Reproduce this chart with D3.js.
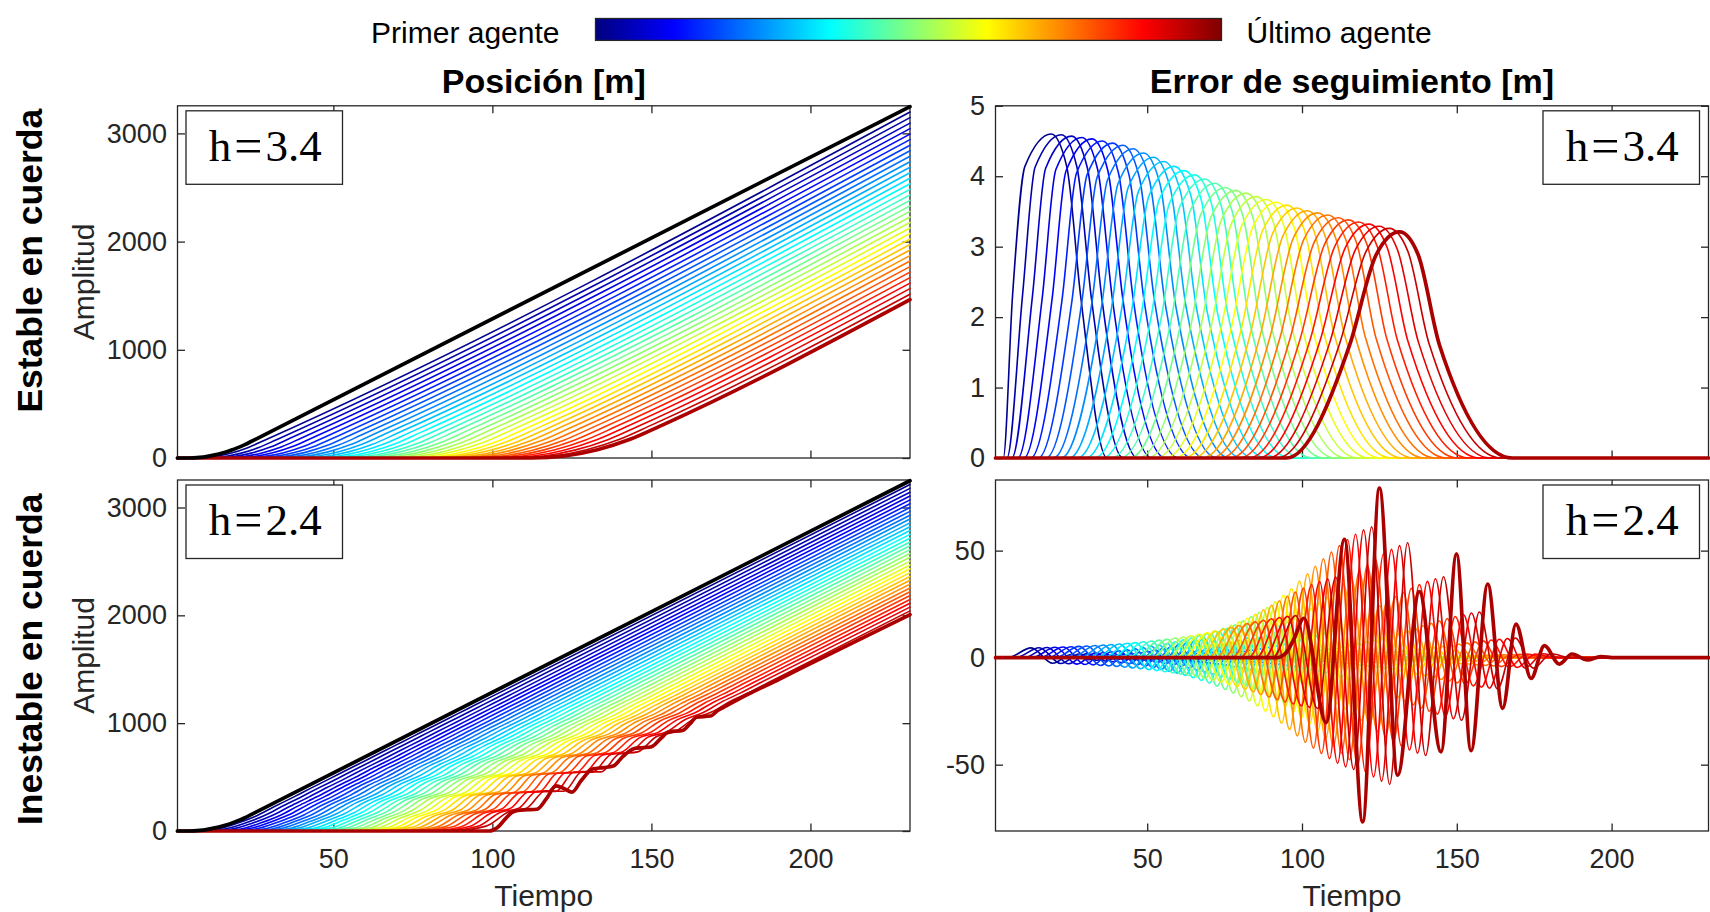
<!DOCTYPE html>
<html>
<head>
<meta charset="utf-8">
<script src="https://cdn.jsdelivr.net/npm/d3@7"></script>
<style>
  body { margin: 0; background: #fff; }
  svg { display: block; }
</style>
</head>
<body>
<script>
// ---------------- Datos ----------------
const tiempoEje = [1, 231.3];
const ticksTiempo = [50, 100, 150, 200];
const ticksPosicion = [0, 1000, 2000, 3000];
const ticksErrorEstable = [0, 1, 2, 3, 4, 5];
const ticksErrorInestable = [-50, 0, 50];
const limitePosicion = [0, 3255];
const limiteErrorEstable = [0, 5];
const limiteErrorInestable = [-81, 83];
const etiquetasH = ["3.4", "2.4"];

// Líder (trazo negro)
const liderTiempo = [1, 4, 6, 8, 10, 12, 14, 16, 18, 20, 22, 24, 26, 231.3];
const liderPosicion = [0, 0, 2, 6, 13, 24, 37, 54, 73, 96, 121, 150, 180, 3248];

// h = 3.4 : posición de cada seguidor (cruce con cero de su recta, media anchura de la curva, valor final)
const cruceH34 = [17.4, 20.8, 24.2, 27.6, 31.0, 34.4, 37.8, 41.2, 44.6, 48.0, 51.4, 54.8, 58.2, 61.6, 65.0, 68.4, 71.8, 75.2, 78.6, 82.0, 85.4, 88.8, 92.2, 95.6, 99.0, 102.4, 105.8, 109.2, 112.6, 116.0, 119.4, 122.8, 126.2, 129.6, 133.0];
const curvaH34 = [11, 11.5, 12, 12.4, 12.8, 13.2, 13.5, 13.9, 14.2, 14.5, 14.8, 15.1, 15.4, 15.7, 16, 16.3, 16.5, 16.8, 17, 17.3, 17.5, 17.8, 18, 18.2, 18.5, 18.7, 18.9, 19.1, 19.3, 19.5, 19.8, 20, 20.2, 20.4, 20.6];
const finalH34 = [3197, 3146, 3095, 3044, 2993, 2942, 2891, 2840, 2789, 2738, 2687, 2636, 2585, 2534, 2483, 2432, 2381, 2330, 2279, 2228, 2177, 2126, 2075, 2024, 1973, 1922, 1871, 1820, 1769, 1718, 1667, 1616, 1565, 1514, 1463];

// h = 3.4 : error de seguimiento de cada seguidor (instantes característicos y valor de pico)
const errIniH34 = [3.5, 4.7, 6.3, 8.2, 10.2, 12.4, 14.8, 17.3, 19.7, 22.2, 24.8, 27.5, 30.2, 32.9, 35.5, 38.4, 41.3, 44.3, 47.1, 50.0, 52.9, 55.8, 58.8, 61.8, 64.7, 67.7, 70.7, 73.7, 76.8, 79.8, 82.9, 85.9, 89.0, 92.0, 95.0];
const errSube50H34 = [6.5, 9.7, 12.9, 16.1, 19.3, 22.5, 25.7, 28.9, 32.1, 35.3, 38.5, 41.7, 44.9, 48.1, 51.3, 54.5, 57.7, 60.9, 64.2, 67.4, 70.6, 73.8, 77.0, 80.2, 83.4, 86.6, 89.8, 93.0, 96.2, 99.4, 102.6, 105.8, 109.0, 112.2, 115.4];
const errSube90H34 = [10.5, 13.8, 17.2, 20.5, 23.8, 27.2, 30.6, 33.9, 37.2, 40.6, 43.9, 47.2, 50.6, 53.9, 57.2, 60.5, 63.9, 67.3, 70.6, 74.0, 77.3, 80.6, 84.0, 87.3, 90.6, 93.9, 97.3, 100.6, 104.0, 107.4, 110.7, 114.0, 117.3, 120.7, 124.0];
const errPicoH34 = [19.0, 22.3, 25.6, 28.9, 32.2, 35.5, 38.9, 42.2, 45.5, 48.8, 52.1, 55.4, 58.7, 62.0, 65.3, 68.6, 71.9, 75.3, 78.6, 81.9, 85.2, 88.5, 91.8, 95.1, 98.4, 101.7, 105.0, 108.3, 111.7, 115.0, 118.3, 121.6, 124.9, 128.2, 131.5];
const errBaja90H34 = [24.0, 27.3, 30.7, 34.0, 37.3, 40.7, 44.1, 47.4, 50.7, 54.1, 57.4, 60.7, 64.1, 67.4, 70.7, 74.0, 77.4, 80.8, 84.1, 87.5, 90.8, 94.1, 97.5, 100.8, 104.1, 107.4, 110.8, 114.1, 117.5, 120.9, 124.2, 127.5, 130.8, 134.2, 137.5];
const errBaja50H34 = [28.5, 31.9, 35.3, 38.7, 42.1, 45.5, 49.0, 52.4, 55.8, 59.2, 62.6, 66.0, 69.4, 72.8, 76.2, 79.6, 83.0, 86.5, 89.9, 93.3, 96.7, 100.1, 103.5, 106.9, 110.3, 113.7, 117.1, 120.4, 123.9, 127.4, 130.8, 134.2, 137.6, 141.0, 144.4];
const errFinH34 = [37.0, 42.2, 46.9, 51.5, 55.9, 60.2, 64.5, 68.5, 72.6, 76.6, 80.5, 84.3, 88.2, 92.0, 95.9, 99.6, 103.2, 107.0, 110.7, 114.3, 118.0, 121.7, 125.3, 128.8, 132.4, 136.0, 139.6, 143.1, 146.8, 150.4, 153.9, 157.4, 160.9, 164.4, 168.0];
const errValorH34 = [4.60, 4.59, 4.57, 4.55, 4.53, 4.50, 4.47, 4.44, 4.39, 4.33, 4.27, 4.21, 4.14, 4.08, 4.02, 3.96, 3.90, 3.84, 3.80, 3.76, 3.71, 3.67, 3.63, 3.59, 3.55, 3.51, 3.48, 3.45, 3.41, 3.38, 3.35, 3.32, 3.29, 3.26, 3.21];

// h = 2.4 : posición de cada seguidor
const cruceH24 = [16.4, 18.7, 21.1, 23.5, 25.8, 28.2, 30.6, 32.9, 35.3, 37.7, 40.0, 42.4, 44.8, 47.1, 49.5, 51.9, 54.2, 56.6, 59.0, 61.3, 63.7, 66.1, 68.4, 70.8, 73.2, 75.5, 77.9, 80.3, 82.6, 85.0, 87.4, 89.7, 92.1, 94.5, 96.8];
const curvaH24 = [11.0, 11.0, 10.9, 10.8, 10.7, 10.6, 10.5, 10.4, 10.3, 10.2, 10.1, 10.0, 9.9, 9.8, 9.7, 9.6, 9.5, 9.4, 9.3, 9.2, 9.1, 9.0, 8.9, 8.8, 8.7, 8.6, 8.5, 8.4, 8.3, 8.2, 8.1, 8.0, 7.9, 7.8, 7.7];
const finalH24 = [3212.5, 3177, 3141.5, 3106, 3070.5, 3035, 2999.5, 2964, 2928.5, 2893, 2857.5, 2822, 2786.5, 2751, 2715.5, 2680, 2644.5, 2609, 2573.5, 2538, 2502.5, 2467, 2431.5, 2396, 2360.5, 2325, 2289.5, 2254, 2218.5, 2183, 2147.5, 2112, 2076.5, 2041, 2005.5];

// h = 2.4 : oscilación del error de los seguidores 1..34 (inicio y amplitud del tren de ondas)
const ondaIniH24 = [5.0, 7.6, 10.2, 12.8, 15.4, 18.0, 20.5, 23.1, 25.7, 28.3, 30.9, 33.5, 36.1, 38.7, 41.3, 43.9, 46.4, 49.0, 51.6, 54.2, 56.8, 59.4, 62.0, 64.6, 67.2, 69.8, 72.3, 74.9, 77.5, 80.1, 82.7, 85.3, 87.9, 90.5];
const ondaAmpH24 = [0.6, 0.9, 1.3, 1.7, 2.2, 2.8, 3.5, 4.2, 5.0, 6.0, 7.0, 8.0, 9.2, 10.5, 12.0, 13.5, 15.2, 17.0, 19.0, 21.0, 23.4, 26.0, 29.0, 32.0, 35.5, 39.0, 42.5, 46.0, 49.2, 52.2, 55.0, 57.5, 59.5, 61.0];
const lomoH24 = 4.4;
// extremos sucesivos del tren de ondas: retardo desde el inicio y peso relativo
const ondaRetraso = [7.5, 14.5, 20.4, 26.2, 32.0, 37.8, 43.6, 49.4, 55.2, 61.0, 66.8, 72.6, 78.4, 84.2, 90.0];
const ondaForma = [0.25, -0.35, 0.60, -0.85, 1.00, -0.97, 0.88, -0.75, 0.62, -0.48, 0.35, -0.24, 0.15, -0.08, 0.03];
const lomoForma = [1, -0.55, 0.25, -0.10, 0.04, 0, 0, 0, 0, 0, 0, 0, 0, 0, 0];
const rizoPosicion = 0.8;

// h = 2.4 : último agente (trazo grueso)
const ultimoPosT = [1, 99, 101.5, 104, 106, 108, 111, 114, 117, 120, 122.5, 125, 128, 131.5, 135, 138, 141, 144.6, 147.5, 150, 153, 155.5, 159.8, 162, 164.2, 168.5, 171, 173.5, 180, 190, 200, 231.3];
const ultimoPosP = [0, 0, 30, 110, 170, 192, 197, 202, 300, 418, 395, 360, 470, 575, 588, 602, 690, 765, 773, 782, 860, 920, 932, 990, 1055, 1066, 1120, 1160, 1262, 1405, 1552, 2006];
const ultimoErrT = [1, 92, 95, 97.5, 100.6, 107.8, 113.7, 119.6, 125.0, 130.9, 137.9, 144.9, 149.9, 154.6, 160.0, 164.8, 169.1, 174.0, 178.3, 183.1, 187.2, 192.2, 196.5, 201, 231.3];
const ultimoErrV = [0, 0, 2.5, 9, 18.4, -30.4, 55.3, -76.7, 79.2, -54.9, 30.8, -44.0, 48.5, -43.5, 34.4, -23.7, 15.7, -9.7, 5.6, -3.0, 1.7, -1.1, 0.5, 0, 0];

// ---------------- Dibujo ----------------
const N = cruceH34.length;
const fuente = "'Liberation Sans', Arial, Helvetica, sans-serif";
const gris = "#262626";
const finT = tiempoEje[1];

const svg = d3.select("body").append("svg").attr("width", 1710).attr("height", 912);

// Mapa de color jet (misma construcción que MATLAB)
function jetMatlab(m) {
  const n = Math.ceil(m / 4);
  const u = [];
  for (let k = 1; k <= n; k++) u.push(k / n);
  for (let k = 1; k < n; k++) u.push(1);
  for (let k = n; k >= 1; k--) u.push(k / n);
  const off = Math.ceil(n / 2) - (m % 4 === 1 ? 1 : 0);
  const J = Array.from({length: m}, () => [0, 0, 0]);
  u.forEach((val, idx) => {
    const g = off + idx + 1, r = g + n, b = g - n;
    if (r >= 1 && r <= m) J[r - 1][0] = val;
    if (g >= 1 && g <= m) J[g - 1][1] = val;
    if (b >= 1 && b <= m) J[b - 1][2] = val;
  });
  return J.map(c => d3.rgb(c[0] * 255, c[1] * 255, c[2] * 255).formatHex());
}
const colores = jetMatlab(N);

const paneles = {
  posEst: {x0: 177.5, x1: 910, y0: 105.8, y1: 458},
  errEst: {x0: 995.5, x1: 1708.5, y0: 105.8, y1: 458},
  posIne: {x0: 177.5, x1: 910, y0: 480, y1: 831},
  errIne: {x0: 995.5, x1: 1708.5, y0: 480, y1: 831}
};

const escX = p => d3.scaleLinear(tiempoEje, [p.x0, p.x1]);
const sx = {
  posEst: escX(paneles.posEst), errEst: escX(paneles.errEst),
  posIne: escX(paneles.posIne), errIne: escX(paneles.errIne)
};
const sy = {
  posEst: d3.scaleLinear(limitePosicion, [paneles.posEst.y1, paneles.posEst.y0]),
  errEst: d3.scaleLinear(limiteErrorEstable, [paneles.errEst.y1, paneles.errEst.y0]),
  posIne: d3.scaleLinear(limitePosicion, [paneles.posIne.y1, paneles.posIne.y0]),
  errIne: d3.scaleLinear(limiteErrorInestable, [paneles.errIne.y1, paneles.errIne.y0])
};

function ejes(clave, yTicks, conEtiquetasX) {
  const m = paneles[clave], x = sx[clave], y = sy[clave];
  const g = svg.append("g");
  const abajo = d3.axisBottom(x).tickValues(ticksTiempo).tickSizeInner(-7.5).tickSizeOuter(0).tickPadding(17.8)
    .tickFormat(conEtiquetasX ? d => String(d) : () => "");
  g.append("g").attr("transform", `translate(0,${m.y1})`).call(abajo);
  g.append("g").attr("transform", `translate(0,${m.y0})`)
    .call(d3.axisTop(x).tickValues(ticksTiempo).tickSizeInner(-7.5).tickSizeOuter(0).tickFormat(() => ""));
  g.append("g").attr("transform", `translate(${m.x0},0)`)
    .call(d3.axisLeft(y).tickValues(yTicks).tickSizeInner(-7.5).tickSizeOuter(0).tickPadding(10.6).tickFormat(d => String(d)));
  g.append("g").attr("transform", `translate(${m.x1},0)`)
    .call(d3.axisRight(y).tickValues(yTicks).tickSizeInner(-7.5).tickSizeOuter(0).tickFormat(() => ""));
  g.selectAll(".domain").remove();
  g.selectAll("g").attr("font-family", null).attr("font-size", null);
  g.selectAll("line").attr("stroke", gris).attr("stroke-width", 1.3);
  g.selectAll("text").attr("fill", gris).style("font-family", fuente).style("font-size", "27px");
  svg.append("rect").attr("x", m.x0).attr("y", m.y0).attr("width", m.x1 - m.x0).attr("height", m.y1 - m.y0)
    .attr("fill", "none").attr("stroke", gris).attr("stroke-width", 1.3);
}

ejes("posEst", ticksPosicion, false);
ejes("errEst", ticksErrorEstable, false);
ejes("posIne", ticksPosicion, true);
ejes("errIne", ticksErrorInestable, true);

function trazo(clave, puntos, color, ancho) {
  const ordenados = puntos.slice().sort((a, b) => a[0] - b[0])
    .filter((p, i, arr) => i === 0 || p[0] > arr[i - 1][0] + 1e-6);
  const linea = d3.line().x(d => sx[clave](d[0])).y(d => sy[clave](d[1])).curve(d3.curveMonotoneX);
  svg.append("path").attr("d", linea(ordenados)).attr("fill", "none")
    .attr("stroke", color).attr("stroke-width", ancho)
    .attr("stroke-linejoin", "round").attr("stroke-linecap", "round");
}

// Recta de cada seguidor con el codo suavizado alrededor de su cruce con cero
function recta(c, w, pf) {
  const pend = pf / (finT - c);
  return t => t <= c - w ? 0 : t >= c + w ? pend * (t - c) : pend * (t - c + w) * (t - c + w) / (4 * w);
}

const FINO = 1.6, GRUESO = 3.7;

// ---- Posición, h = 3.4 ----
for (let i = 0; i < N; i++) {
  const c = cruceH34[i], w = curvaH34[i], pf = finalH34[i];
  const base = recta(c, w, pf);
  const pts = [[tiempoEje[0], 0], [c - w, 0]];
  [c - w / 2, c, c + w / 2, c + w].forEach(t => pts.push([t, base(t)]));
  pts.push([finT, pf]);
  trazo("posEst", pts, colores[i], i === N - 1 ? GRUESO : FINO);
}
trazo("posEst", liderTiempo.map((t, k) => [t, liderPosicion[k]]), "#000", GRUESO);

// ---- Error, h = 3.4 ----
for (let i = 0; i < N; i++) {
  const E = errValorH34[i];
  const pts = [
    [tiempoEje[0], 0], [errIniH34[i], 0], [errSube50H34[i], E / 2], [errSube90H34[i], 0.9 * E],
    [errPicoH34[i], E], [errBaja90H34[i], 0.9 * E], [errBaja50H34[i], E / 2], [errFinH34[i], 0], [finT, 0]
  ];
  trazo("errEst", pts, colores[i], i === N - 1 ? GRUESO : FINO);
}

// ---- h = 2.4 : extremos del error de cada seguidor ----
function extremosH24(i) {
  const o = ondaIniH24[i], A = ondaAmpH24[i];
  return ondaRetraso.map((r, k) => [o + r, A * ondaForma[k] + lomoH24 * lomoForma[k]]);
}

// ---- Posición, h = 2.4 ----
for (let i = 0; i < N - 1; i++) {
  const c = cruceH24[i], w = curvaH24[i], pf = finalH24[i];
  const base = recta(c, w, pf);
  const pts = [[tiempoEje[0], 0], [c - w, 0]];
  extremosH24(i).forEach(([t, v]) => {
    if (t > c - w + 0.5) pts.push([t, Math.max(0, base(t) - rizoPosicion * v)]);
  });
  const tFin = ondaIniH24[i] + 96;
  pts.push([tFin, base(tFin)]);
  pts.push([finT, pf]);
  trazo("posIne", pts, colores[i], FINO);
}
trazo("posIne", ultimoPosT.map((t, k) => [t, ultimoPosP[k]]), colores[N - 1], GRUESO);
trazo("posIne", liderTiempo.map((t, k) => [t, liderPosicion[k]]), "#000", GRUESO);

// ---- Error, h = 2.4 ----
for (let i = 0; i < N - 1; i++) {
  const o = ondaIniH24[i];
  const pts = [[tiempoEje[0], 0], [o, 0], ...extremosH24(i), [o + 96, 0], [finT, 0]];
  trazo("errIne", pts, colores[i], FINO);
}
trazo("errIne", ultimoErrT.map((t, k) => [t, ultimoErrV[k]]), colores[N - 1], GRUESO);

// ---- Cajas con el valor de h ----
function cajaH(clave, derecha, valor) {
  const m = paneles[clave];
  const bw = 156.5, bh = 73.5;
  const bx = derecha ? m.x1 - 9 - bw : m.x0 + 8.5;
  const by = m.y0 + 5;
  svg.append("rect").attr("x", bx).attr("y", by).attr("width", bw).attr("height", bh)
    .attr("fill", "#fff").attr("stroke", gris).attr("stroke-width", 1.3);
  const t = svg.append("text").attr("x", bx + bw / 2 + 1).attr("y", by + 50)
    .attr("text-anchor", "middle").style("font-family", "'Liberation Serif', 'Times New Roman', serif")
    .style("font-size", "45px").attr("fill", "#000");
  t.append("tspan").text("h");
  t.append("tspan").attr("dx", 3).attr("dy", 2).style("font-size", "50px").text("=");
  t.append("tspan").attr("dx", 3).attr("dy", -2).text(valor);
}
cajaH("posEst", false, etiquetasH[0]);
cajaH("errEst", true, etiquetasH[0]);
cajaH("posIne", false, etiquetasH[1]);
cajaH("errIne", true, etiquetasH[1]);

// ---- Textos ----
function texto(x, y, s, opts = {}) {
  const t = svg.append("text").attr("x", x).attr("y", y).text(s)
    .attr("text-anchor", opts.anchor || "middle")
    .attr("fill", opts.color || "#000")
    .style("font-family", fuente)
    .style("font-size", (opts.size || 30) + "px")
    .style("font-weight", opts.bold ? "bold" : "normal");
  if (opts.rot) t.attr("transform", `rotate(-90,${x},${y})`);
  return t;
}
const cx = p => (p.x0 + p.x1) / 2, cy = p => (p.y0 + p.y1) / 2;

texto(cx(paneles.posEst), 93, "Posición [m]", {bold: true, size: 34});
texto(cx(paneles.errEst), 93, "Error de seguimiento [m]", {bold: true, size: 34});
texto(cx(paneles.posIne), 906, "Tiempo", {color: gris});
texto(cx(paneles.errIne), 906, "Tiempo", {color: gris});
texto(94, cy(paneles.posEst), "Amplitud", {color: gris, rot: true});
texto(94, cy(paneles.posIne), "Amplitud", {color: gris, rot: true});
texto(42, 260.7, "Estable en cuerda", {bold: true, size: 35.5, rot: true});
texto(42, 659.3, "Inestable en cuerda", {bold: true, size: 35.5, rot: true});

// ---- Barra de color ----
const defs = svg.append("defs");
const grad = defs.append("linearGradient").attr("id", "jetGrad").attr("x1", "0%").attr("x2", "100%");
const jetCont = s => {
  const f = v => Math.max(0, Math.min(1, v));
  return d3.rgb(255 * f(1.5 - Math.abs(4 * s - 3)), 255 * f(1.5 - Math.abs(4 * s - 2)), 255 * f(1.5 - Math.abs(4 * s - 1))).formatHex();
};
d3.range(0, 65).forEach(k => {
  const s = k / 64;
  grad.append("stop").attr("offset", (s * 100) + "%").attr("stop-color", jetCont(s));
});
svg.append("rect").attr("x", 595.5).attr("y", 18.5).attr("width", 626).attr("height", 21.9)
  .attr("fill", "url(#jetGrad)").attr("stroke", gris).attr("stroke-width", 1.3);
texto(559.5, 43, "Primer agente", {anchor: "end"});
texto(1246.5, 43, "Último agente", {anchor: "start"});
</script>
</body>
</html>
